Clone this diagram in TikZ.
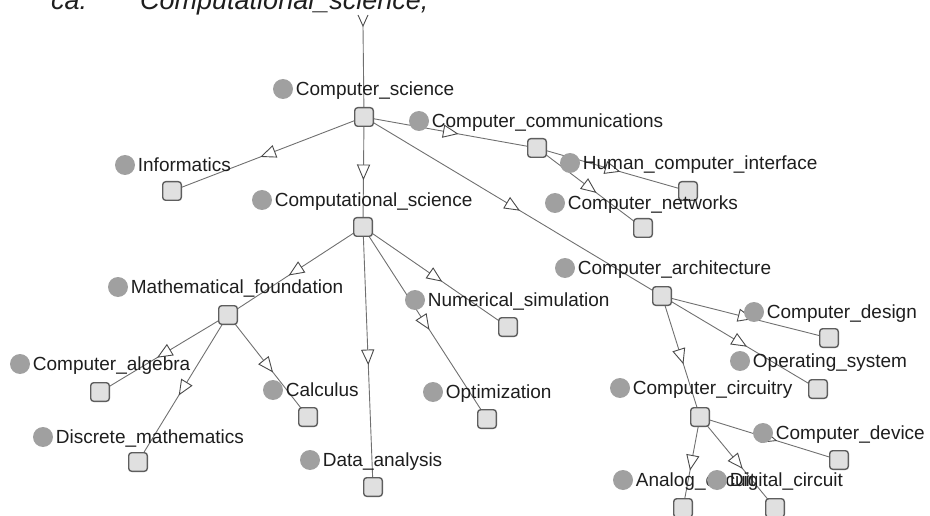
\documentclass[tikz,border=0pt]{standalone}
\usepackage{fontspec}
\setmainfont{Liberation Sans}
\usetikzlibrary{positioning,decorations.markings,backgrounds}
\definecolor{dotgray}{HTML}{A0A0A0}
\definecolor{boxfill}{HTML}{E0E0E0}
\definecolor{boxline}{HTML}{5E5E5E}
\definecolor{linkgray}{HTML}{707070}
\definecolor{tipgray}{HTML}{4A4A4A}
\definecolor{labeltext}{HTML}{1E1E1E}

\begin{document}
\begin{tikzpicture}[x=1pt, y=-1pt,
  dot/.style={circle, fill=dotgray, minimum size=20pt, inner sep=0pt},
  lbl/.style={inner sep=0pt, text=labeltext, text height=13.6pt, text depth=0pt,
    font=\fontsize{19}{22}\selectfont},
  query/.style={inner sep=0pt, anchor=base west, text=labeltext,
    font=\fontsize{27}{30}\selectfont\itshape},
  box/.style={rectangle, rounded corners=3pt, draw=boxline, line width=1.4pt,
    fill=boxfill, minimum size=18.6pt, inner sep=0pt},
  link/.style={draw=linkgray, line width=0.9pt, postaction={decorate},
    decoration={markings, mark=at position 0.5 with {%
      \filldraw[fill=white, draw=tipgray, line width=0.9pt]
        (7pt,0pt) -- (-7pt,6pt) -- (-7pt,-6pt) -- cycle;}}}]

\useasboundingbox (0,0) rectangle (930,516);
\clip (0,0) rectangle (930,516);

% query line at the top
\node[query] (qa) at (51,10) {ca:};
\node[query] (qb) at (140,10) {Computational\_science;};

% concepts: name / dot x / dot y / text / box x / box y
\foreach \nm/\cx/\cy/\txt/\sx/\sy in {
    cs/283/89/Computer\_science/364/117,
    ccom/419/121/Computer\_communications/537/148,
    inf/125/165/Informatics/172/191,
    csci/262/200/Computational\_science/363/227,
    hci/570/163/Human\_computer\_interface/688/191,
    cnet/555/203/Computer\_networks/643/228,
    carch/565/268/Computer\_architecture/662/296,
    mf/118/287/Mathematical\_foundation/228/315,
    nsim/415/300/Numerical\_simulation/508/327,
    cdes/754/312/Computer\_design/829/338,
    os/740/361/Operating\_system/818/389,
    ccir/620/388/Computer\_circuitry/700/417,
    calg/20/364/Computer\_algebra/100/392,
    dm/43/437/Discrete\_mathematics/138/462,
    calc/273/390/Calculus/308/417,
    opt/433/392/Optimization/487/419,
    da/310/460/Data\_analysis/373/487,
    cdev/763/433/Computer\_device/839/460,
    ana/623/480/Analog\_circuit/683/508,
    dig/717/480/Digital\_circuit/775/508}
{
  \node[dot] (\nm-c) at (\cx,\cy) {};
  \node[box] (\nm-s) at (\sx,\sy) {};
  \node[lbl, right=2.5pt of \nm-c] (\nm-t) {\txt};
}

\coordinate (top) at (363,26);

\begin{scope}[on background layer]
\draw[linkgray, line width=0.9pt] (top) -- (cs-s.center);
\draw[tipgray, line width=0.9pt] (358,15) -- (top) -- (368,15);
\foreach \a/\b in {cs/inf, cs/csci, cs/ccom, cs/carch, ccom/hci, ccom/cnet,
    csci/mf, csci/da, csci/nsim, csci/opt, mf/calg, mf/dm, mf/calc,
    carch/cdes, carch/os, carch/ccir, ccir/cdev, ccir/ana, ccir/dig}
  \draw[link] (\a-s.center) -- (\b-s.center);
\end{scope}

\end{tikzpicture}
\end{document}
